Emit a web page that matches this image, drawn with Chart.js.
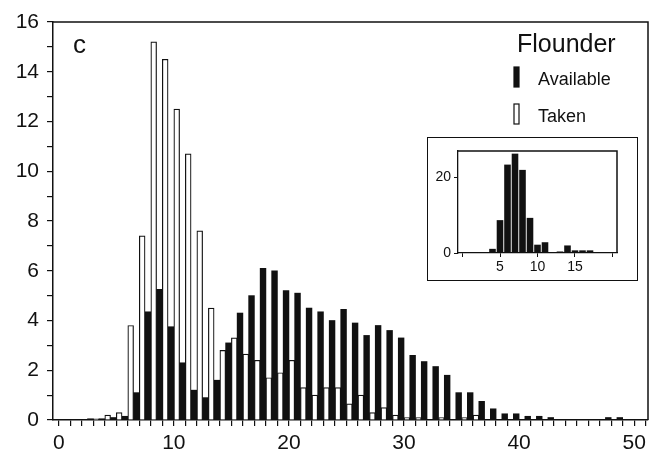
<!DOCTYPE html>
<html>
<head>
<meta charset="utf-8">
<script src="https://cdn.jsdelivr.net/npm/chart.js@4.4.1/dist/chart.umd.min.js"></script>
<style>
  body { margin: 0; background: #fff; }
  #wrap { position: relative; width: 651px; height: 454px; }
  #main { display: block; }
  #inset { position: absolute; left: 427px; top: 137px; width: 209px; height: 142px; border: 1.5px solid #111; background: #fff; }
  #small { display: block; }
</style>
</head>
<body>
<div id="wrap">
  <canvas id="main" width="651" height="454"></canvas>
  <div id="inset"><canvas id="small" width="209" height="142"></canvas></div>
</div>
<script>
// length bins (lower edge of each 1-unit bin)
const bins = [0, 1, 2, 3, 4, 5, 6, 7, 8, 9, 10, 11, 12, 13, 14, 15, 16, 17, 18, 19, 20, 21, 22, 23, 24,
  25, 26, 27, 28, 29, 30, 31, 32, 33, 34, 35, 36, 37, 38, 39, 40, 41, 42, 43, 44, 45, 46, 47, 48, 49];
const taken = [0, 0, 0, 0.05, 0.2, 0.3, 3.8, 7.4, 15.2, 14.5, 12.5, 10.7, 7.6, 4.5, 2.8, 3.3, 2.65, 2.4, 1.7, 1.9,
  2.4, 1.3, 1.0, 1.3, 1.3, 0.65, 1.0, 0.3, 0.5, 0.2, 0.1, 0.1, 0, 0.1, 0, 0.1, 0.2, 0, 0, 0,
  0, 0, 0, 0, 0, 0, 0, 0, 0, 0];
const available = [0, 0, 0.05, 0.05, 0.1, 0.15, 1.1, 4.35, 5.25, 3.75, 2.3, 1.2, 0.9, 1.6, 3.1, 4.3, 5.0, 6.1, 6.0, 5.2,
  5.1, 4.5, 4.35, 4.0, 4.45, 3.9, 3.4, 3.8, 3.6, 3.3, 2.6, 2.35, 2.15, 1.8, 1.1, 1.1, 0.75, 0.45, 0.25, 0.25,
  0.15, 0.15, 0.1, 0, 0, 0, 0, 0.1, 0.1, 0];
const xTickLabels = [0, 10, 20, 30, 40, 50];
const yTickLabels = [0, 2, 4, 6, 8, 10, 12, 14, 16];

// inset
const insetBins = [4, 5, 6, 7, 8, 9, 10, 11, 12, 13, 14, 15, 16, 17];
const insetCounts = [1.1, 8.7, 23.4, 26.3, 22.0, 9.3, 2.2, 2.85, 0, 0.4, 2.0, 0.7, 0.7, 0.7];
const insetXLabels = [5, 10, 15];
const insetYLabels = [0, 20];

const ink = '#111';
const font = '"Liberation Sans", Arial, sans-serif';

const frame = {
  id: 'frame',
  afterDraw(chart) {
    const { ctx, chartArea: a } = chart;
    ctx.save();
    ctx.strokeStyle = ink;
    ctx.lineWidth = 1.5;
    ctx.beginPath();
    ctx.moveTo(a.left, a.top);
    ctx.lineTo(a.right, a.top);
    ctx.lineTo(a.right, a.bottom);
    ctx.stroke();
    ctx.restore();
  }
};

const keyBox = {
  id: 'keyBox',
  afterDraw(chart) {
    const ctx = chart.ctx;
    ctx.save();
    ctx.fillStyle = ink;
    ctx.textBaseline = 'alphabetic';
    ctx.font = '26px ' + font;
    ctx.fillText('c', 73, 53);
    ctx.font = '25px ' + font;
    ctx.fillText('Flounder', 517, 52);
    // Available first, then Taken
    const order = [chart.data.datasets[1], chart.data.datasets[0]];
    order.forEach((ds, i) => {
      const y = 67 + i * 37;
      ctx.fillStyle = ds.backgroundColor;
      ctx.fillRect(514, y, 5, 20);
      ctx.strokeStyle = ink;
      ctx.lineWidth = 1.2;
      ctx.strokeRect(514, y, 5, 20);
      ctx.fillStyle = ink;
      ctx.font = '18px ' + font;
      ctx.fillText(ds.label, 538, y + 18);
    });
    ctx.restore();
  }
};

new Chart(document.getElementById('main'), {
  type: 'bar',
  data: {
    datasets: [
      {
        label: 'Taken',
        data: bins.map((b, i) => ({ x: b + 0.5, y: taken[i] })),
        backgroundColor: '#fff',
        borderColor: ink,
        borderWidth: 1.2,
        categoryPercentage: 1,
        barPercentage: 1
      },
      {
        label: 'Available',
        data: bins.map((b, i) => ({ x: b + 0.5, y: available[i] })),
        backgroundColor: ink,
        borderWidth: 0,
        categoryPercentage: 1,
        barPercentage: 1
      }
    ]
  },
  options: {
    responsive: false,
    animation: false,
    layout: { padding: { top: 22, right: 3, left: 0, bottom: 0 } },
    plugins: { legend: { display: false }, tooltip: { enabled: false } },
    scales: {
      x: {
        type: 'linear',
        min: -0.5,
        max: 51.2,
        offset: false,
        afterFit: s => { s.height = 34; },
        afterBuildTicks: s => { s.ticks = s.ticks.filter(t => Number.isInteger(t.value)); },
        border: { color: ink, width: 1.5 },
        grid: { offset: false, drawOnChartArea: false, tickLength: 6, color: ink, lineWidth: 1.2 },
        ticks: {
          stepSize: 1,
          includeBounds: false,
          autoSkip: false,
          maxRotation: 0,
          padding: 5,
          color: ink,
          font: { family: font, size: 21 },
          callback: v => xTickLabels.includes(v) ? String(v) : ''
        }
      },
      y: {
        min: 0,
        max: 16,
        afterFit: s => { s.width = 53; },
        border: { color: ink, width: 1.5 },
        grid: { drawOnChartArea: false, tickLength: 6, color: ink, lineWidth: 1.2 },
        ticks: {
          stepSize: 1,
          autoSkip: false,
          padding: 8,
          color: ink,
          font: { family: font, size: 21 },
          callback: v => yTickLabels.includes(v) ? String(v) : ''
        }
      }
    }
  },
  plugins: [frame, keyBox]
});

new Chart(document.getElementById('small'), {
  type: 'bar',
  data: {
    datasets: [{
      label: 'Available',
      data: insetBins.map((b, i) => ({ x: b, y: insetCounts[i] })),
      backgroundColor: ink,
      borderWidth: 0,
      categoryPercentage: 1,
      barPercentage: 0.88
    }]
  },
  options: {
    responsive: false,
    animation: false,
    layout: { padding: { top: 13, right: 20, left: 0, bottom: 0 } },
    plugins: { legend: { display: false }, tooltip: { enabled: false } },
    scales: {
      x: {
        type: 'linear',
        min: -0.6,
        max: 20.6,
        offset: false,
        afterFit: s => { s.height = 27; },
        afterBuildTicks: s => { s.ticks = s.ticks.filter(t => t.value % 5 === 0); },
        border: { color: ink, width: 1.3 },
        grid: { offset: false, drawOnChartArea: false, tickLength: 4, color: ink, lineWidth: 1 },
        ticks: {
          stepSize: 5,
          includeBounds: false,
          autoSkip: false,
          maxRotation: 0,
          padding: 2,
          color: ink,
          font: { family: font, size: 14 },
          callback: v => insetXLabels.includes(v) ? String(v) : ''
        }
      },
      y: {
        min: 0,
        max: 27,
        afterFit: s => { s.width = 30; },
        afterBuildTicks: s => { s.ticks = s.ticks.filter(t => t.value % 20 === 0); },
        border: { color: ink, width: 1.3 },
        grid: { drawOnChartArea: false, tickLength: 4, color: ink, lineWidth: 1 },
        ticks: {
          stepSize: 20,
          includeBounds: false,
          autoSkip: false,
          padding: 3,
          color: ink,
          font: { family: font, size: 14 },
          callback: v => insetYLabels.includes(v) ? String(v) : ''
        }
      }
    }
  },
  plugins: [frame]
});
</script>
</body>
</html>
